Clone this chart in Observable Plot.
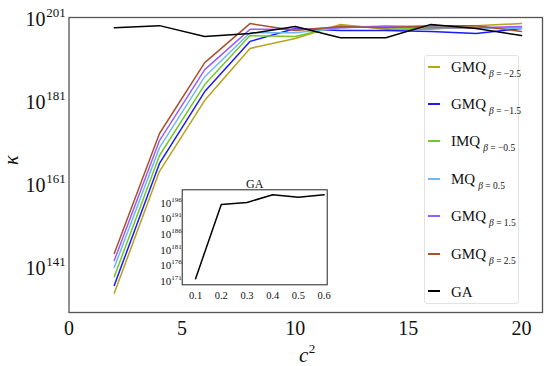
<!DOCTYPE html>
<html><head><meta charset="utf-8">
<script src="https://cdn.jsdelivr.net/npm/d3@7"></script>
<script src="https://cdn.jsdelivr.net/npm/@observablehq/plot@0.6"></script>
<style>
body{margin:0;background:#fff;}
#wrap{position:relative;width:550px;height:366px;}
#inset{position:absolute;left:140px;top:170px;}
#legend{position:absolute;left:424px;top:55px;width:95px;height:249px;border:1px solid #e2e2e2;border-radius:3px;background:#fff;box-sizing:border-box;}
.row{position:absolute;left:0;height:20px;display:flex;align-items:center;}
.sw{width:12px;height:2px;margin-left:3px;margin-top:-4px;}
.lab{margin-left:11px;font-size:15px;color:#111;white-space:nowrap;}
.lab sub{font-size:9.5px;vertical-align:-5px;margin-left:3px;}
</style></head><body><div id="wrap"></div>
<script>
// c^2 values
const xs = [2, 4, 6, 8, 10, 12, 14, 16, 18, 20];
// log10(kappa) for each series
const gmqM25 = [134.3, 163.7, 180.8, 193.3, 195.7, 199.1, 197.9, 197.9, 198.8, 199.3];
const gmqM15 = [136.2, 165.6, 182.9, 195.0, 198.1, 197.6, 197.6, 197.4, 196.9, 198.1];
const imqM05 = [138.3, 167.5, 184.6, 196.4, 196.2, 198.8, 198.3, 198.1, 198.3, 198.3];
const mq05   = [140.5, 169.4, 186.5, 197.1, 197.1, 198.3, 198.8, 198.6, 198.3, 198.1];
const gmq15  = [142.2, 171.1, 188.2, 197.9, 197.9, 198.3, 198.6, 198.3, 198.3, 198.6];
const gmq25  = [143.9, 172.8, 189.9, 199.3, 197.6, 198.6, 198.3, 198.8, 198.8, 197.4];
const ga     = [198.3, 198.8, 196.2, 196.9, 198.6, 195.9, 195.9, 199.1, 198.1, 196.4];
const names = ["GMQ", "GMQ", "IMQ", "MQ", "GMQ", "GMQ", "GA"];
const betas = ["−2.5", "−1.5", "−0.5", "0.5", "1.5", "2.5", null];
const colors = ["#b8a21c", "#1a1aff", "#74c62a", "#6fb8f5", "#9b5cff", "#a8522d", "#000000"];
const allSeries = [gmqM25, gmqM15, imqM05, mq05, gmq15, gmq25, ga];
const xTicks = [0, 5, 10, 15, 20];
const yTicks = [141, 161, 181, 201];
// inset (GA vs shape parameter)
const insetX = [0.1, 0.2, 0.3, 0.4, 0.5, 0.6];
const insetY = [171.55, 195.27, 195.9, 198.4, 197.6, 198.4];
const insetYTicks = [171, 176, 181, 186, 191, 196];

// pick an installed serif font (Times-like)
function hasFont(name) {
  const c = document.createElement("canvas").getContext("2d");
  const s = "mmmmwwwwIlii10GMQ";
  return ["monospace", "sans-serif"].every(fb => {
    c.font = `40px ${fb}`;
    const w0 = c.measureText(s).width;
    c.font = `40px "${name}", ${fb}`;
    return c.measureText(s).width !== w0;
  });
}
const candidates = ["Liberation Serif", "Times New Roman", "Tinos", "DejaVu Serif", "Noto Serif", "FreeSerif", "Times"];
const found = candidates.find(hasFont);
const serif = (found ? `"${found}", ` : "") + `"Liberation Serif", "DejaVu Serif", serif`;

const wrap = document.getElementById("wrap");
wrap.style.fontFamily = serif;

const lineMarks = allSeries.map((vals, k) =>
  Plot.line(xs.map((x, i) => ({x, y: vals[i]})), {x: "x", y: "y", stroke: colors[k], strokeWidth: 1.5})
);

const main = Plot.plot({
  width: 550, height: 366,
  marginLeft: 68.5, marginRight: 8, marginTop: 17, marginBottom: 54,
  style: {fontFamily: serif, background: "transparent", color: "#111"},
  x: {domain: [0, 20.93], axis: null},
  y: {domain: [129.67, 200.76], axis: null},
  marks: [
    ...lineMarks,
    Plot.frame({stroke: "#555", strokeWidth: 1.3}),
    Plot.text(xTicks, {x: d => d, frameAnchor: "bottom", lineAnchor: "top", dy: 8, fontSize: 20, text: d => String(d)}),
    Plot.text(yTicks, {y: d => d, frameAnchor: "left", textAnchor: "end", dx: -23.5, dy: 3, fontSize: 20, text: () => "10"}),
    Plot.text(yTicks, {y: d => d, frameAnchor: "left", textAnchor: "start", dx: -22.8, dy: -4, fontSize: 13, text: d => String(d)}),
    Plot.text(["κ"], {frameAnchor: "left", dx: -57, rotate: -90, fontSize: 20, fontStyle: "italic", text: d => d}),
    Plot.text(["c"], {frameAnchor: "bottom", dx: -2, dy: 42.6, lineAnchor: "middle", fontSize: 21, fontStyle: "italic", text: d => d}),
    Plot.text(["2"], {frameAnchor: "bottom", textAnchor: "start", dx: 3, dy: 36.8, lineAnchor: "middle", fontSize: 13, text: d => d})
  ]
});
wrap.appendChild(main);

const inset = Plot.plot({
  width: 195, height: 135,
  marginLeft: 41.7, marginRight: 8.3, marginTop: 19.3, marginBottom: 20.7,
  style: {fontFamily: serif, background: "transparent", color: "#111"},
  x: {domain: [0.048, 0.612], axis: null},
  y: {domain: [169.6, 199.96], axis: null},
  marks: [
    Plot.frame({fill: "#fff", stroke: "#222", strokeWidth: 1}),
    Plot.line(insetX.map((x, i) => ({x, y: insetY[i]})), {x: "x", y: "y", stroke: "#000", strokeWidth: 1.5}),
    Plot.text(insetX, {x: d => d, frameAnchor: "bottom", lineAnchor: "top", dy: 7, fontSize: 10.5, text: d => d.toFixed(1)}),
    Plot.text(insetYTicks, {y: d => d, frameAnchor: "left", textAnchor: "end", dx: -11, dy: 1.1, fontSize: 11, text: () => "10"}),
    Plot.text(insetYTicks, {y: d => d, frameAnchor: "left", textAnchor: "start", dx: -11, dy: -2.7, fontSize: 7, text: d => String(d)}),
    Plot.text(["GA"], {frameAnchor: "top", dy: -6, lineAnchor: "middle", fontSize: 12, text: d => d})
  ]
});
inset.id = "inset";
wrap.appendChild(inset);

const legend = document.createElement("div");
legend.id = "legend";
names.forEach((n, i) => {
  const row = document.createElement("div");
  row.className = "row";
  row.style.top = (67.5 + i * 37.4 - 55 - 10) + "px";
  const sw = document.createElement("div");
  sw.className = "sw";
  sw.style.background = colors[i];
  const lab = document.createElement("div");
  lab.className = "lab";
  lab.innerHTML = n + (betas[i] ? `<sub><i>β</i> = ${betas[i]}</sub>` : "");
  row.appendChild(sw);
  row.appendChild(lab);
  legend.appendChild(row);
});
wrap.appendChild(legend);
</script>
</body></html>
